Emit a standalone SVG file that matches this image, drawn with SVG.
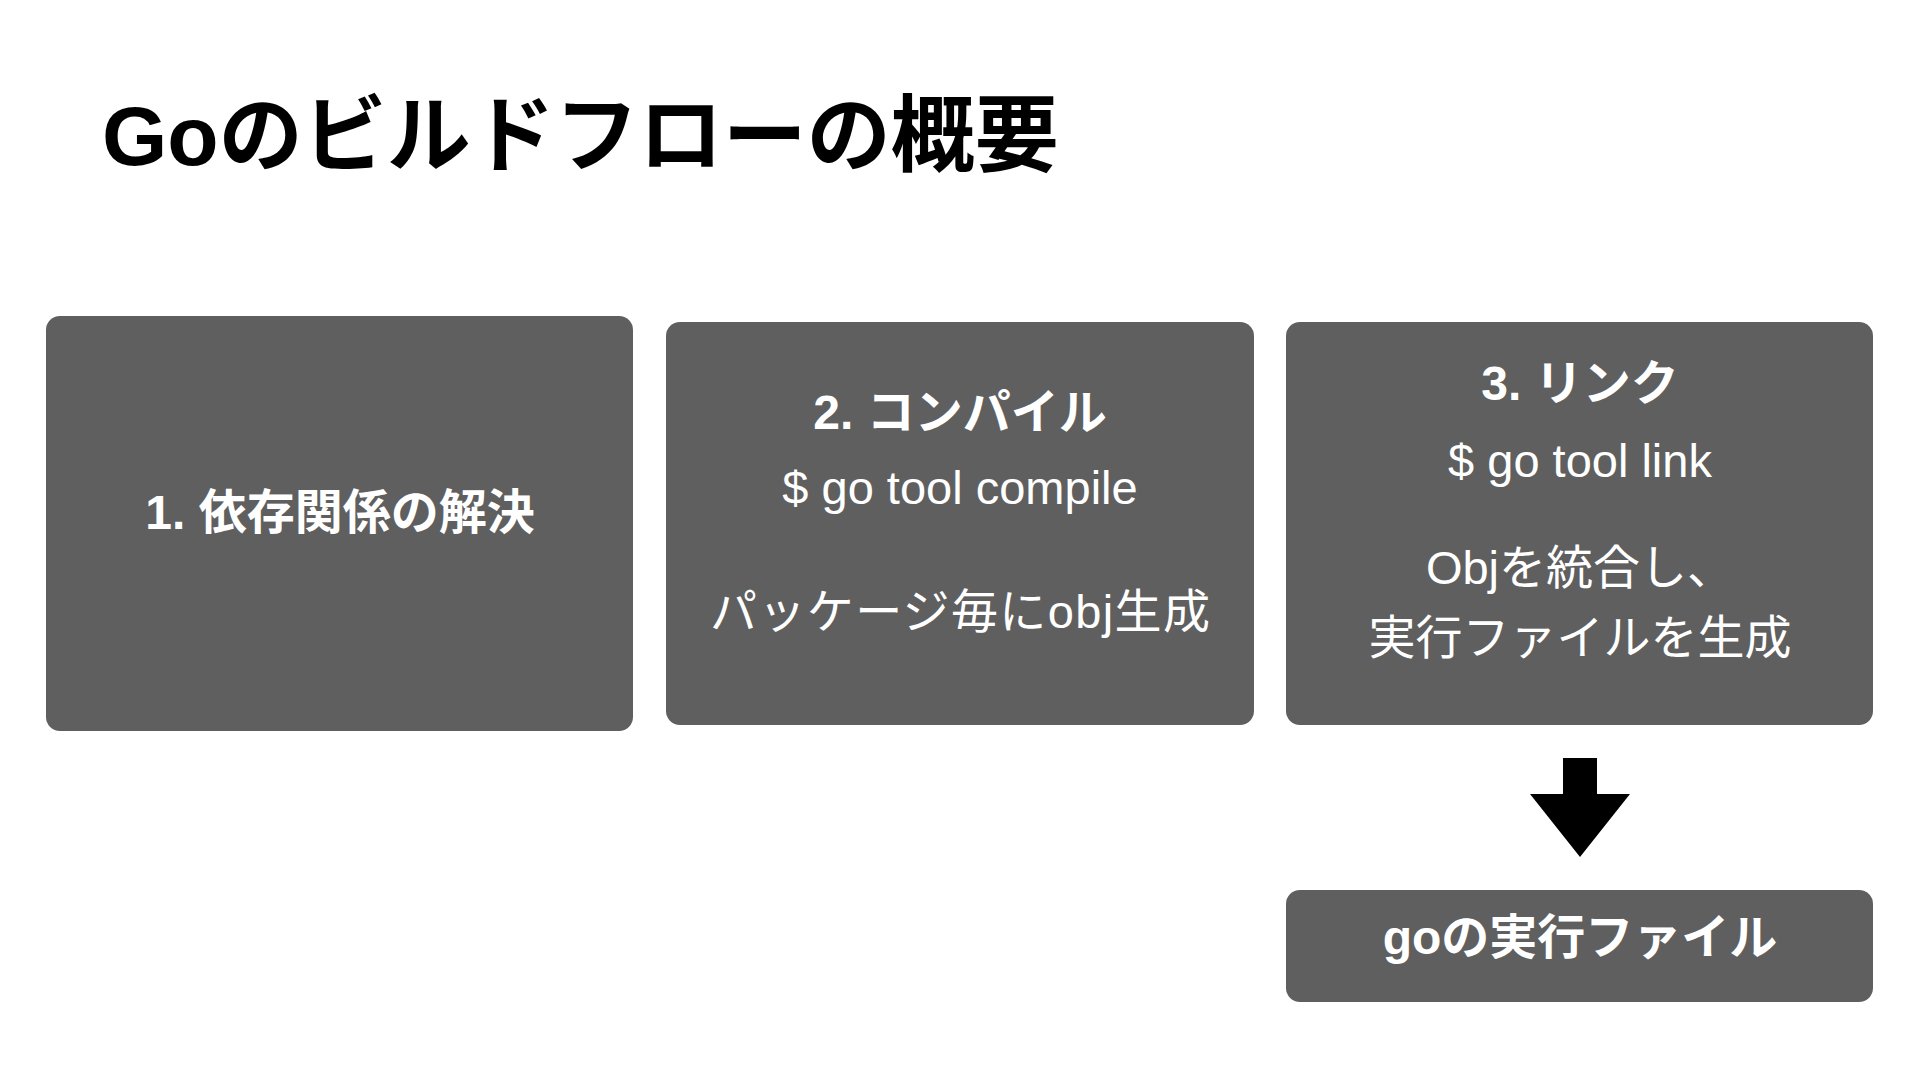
<svg xmlns="http://www.w3.org/2000/svg" width="1920" height="1080" viewBox="0 0 1920 1080">
<style>
.box{fill:#5f5f5f}
.t{fill:#ffffff;font-family:"Liberation Sans","Noto Sans CJK JP",sans-serif;text-anchor:middle;dominant-baseline:central}
.b{font-weight:bold;font-size:48px}
.r{font-weight:normal;font-size:47px}
.title{fill:#000000;font-family:"Liberation Sans","Noto Sans CJK JP",sans-serif;font-weight:bold;font-size:84px}
</style>
<rect width="1920" height="1080" fill="#ffffff"/>
<text class="title" x="102" y="165">Goのビルドフローの概要</text>
<g id="node1">
<rect class="box" x="46" y="316" width="587" height="415" rx="14"/>
<text class="t b" x="340" y="512">1. 依存関係の解決</text>
</g>
<g id="node2">
<rect class="box" x="666" y="322" width="588" height="403" rx="14"/>
<text class="t b" x="960" y="412">2. コンパイル</text>
<text class="t r" x="960" y="487" font-size="48">$ go tool compile</text>
<text class="t r" x="960" y="611" textLength="500" lengthAdjust="spacing">パッケージ毎にobj生成</text>
</g>
<g id="node3">
<rect class="box" x="1286" y="322" width="587" height="403" rx="14"/>
<text class="t b" x="1580" y="383">3. リンク</text>
<text class="t r" x="1580" y="460">$ go tool link</text>
<text class="t r" x="1580" y="567">Objを統合し、</text>
<text class="t r" x="1580" y="637">実行ファイルを生成</text>
</g>
<g id="node4">
<rect class="box" x="1286" y="890" width="587" height="112" rx="14"/>
<text class="t b" x="1580" y="937">goの実行ファイル</text>
</g>
<g id="connectors">
<polygon points="1563,758 1597,758 1597,794 1630,794 1580,857 1530,794 1563,794" fill="#000000"/>
</g>
</svg>
